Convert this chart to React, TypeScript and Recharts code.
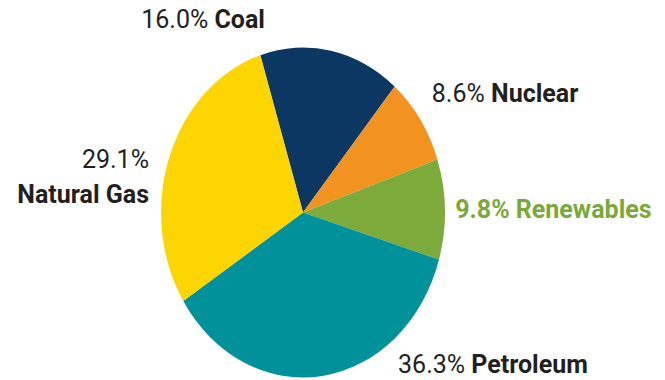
import React from 'react'
import { PieChart, Pie, Cell } from 'recharts'

const sources = ['Coal', 'Nuclear', 'Renewables', 'Petroleum', 'Natural Gas']
const shares = [16.0, 8.6, 9.8, 36.3, 29.1]
const sliceColors = ['#0c3763', '#f3931f', '#7cab3b', '#00919b', '#fdd500']

const data = sources.map((name, i) => ({ name, value: shares[i] }))

// pie is drawn as a circle then squeezed horizontally into the ellipse of the original
const SX = 0.86
const CHART_W = 860
const CX = 430

// label placement relative to the point just outside the slice
const labelPos: Record<string, { anchor: 'start' | 'end'; dx: number; dy: number }> = {
    Coal: { anchor: 'end', dx: -68, dy: -11 },
    Nuclear: { anchor: 'start', dx: 3, dy: -11 },
    Renewables: { anchor: 'start', dx: 0, dy: 9 },
    Petroleum: { anchor: 'start', dx: 74, dy: -15 },
    'Natural Gas': { anchor: 'end', dx: -11, dy: 16 },
}

const textColor = '#231f20'
const fontFamily = 'Roboto, "Noto Sans", sans-serif'

const renderLabel = (props: any) => {
    const { cx, cy, midAngle, outerRadius, index } = props
    const name = sources[index]
    const pos = labelPos[name]
    const rad = Math.PI / 180
    const r = outerRadius + 12
    const sx = r * Math.cos(-midAngle * rad) * SX + pos.dx
    const x = cx + sx / SX
    const y = cy + r * Math.sin(-midAngle * rad) + pos.dy
    const pct = shares[index].toFixed(1) + '%'
    const green = name === 'Renewables'
    return (
        <g transform={`translate(${x},${y}) scale(${1 / SX},1)`}>
            {name === 'Natural Gas' ? (
                <text textAnchor="end" fontFamily={fontFamily} fontSize={25} fill={textColor}>
                    <tspan x={0} y={0}>{pct}</tspan>
                    <tspan x={0} y={35} fontWeight={700}>{name}</tspan>
                </text>
            ) : (
                <text
                    x={0}
                    y={0}
                    textAnchor={pos.anchor}
                    fontFamily={fontFamily}
                    fontSize={25}
                    fill={green ? '#7aa83a' : textColor}
                >
                    <tspan fontWeight={green ? 700 : 400}>{pct} </tspan>
                    <tspan fontWeight={700}>{name}</tspan>
                </text>
            )}
        </g>
    )
}

export default function App() {
    return (
        <div
            style={{
                position: 'absolute',
                left: 0,
                top: 0,
                width: 665,
                height: 380,
                overflow: 'hidden',
                background: '#fff',
            }}
        >
            <div
                style={{
                    position: 'absolute',
                    left: 303 - CX,
                    top: 0,
                    transform: `scaleX(${SX})`,
                    transformOrigin: `${CX}px 0`,
                }}
            >
                <PieChart width={CHART_W} height={380} margin={{ top: 0, right: 0, bottom: 0, left: 0 }}>
                    <Pie
                        data={data}
                        dataKey="value"
                        nameKey="name"
                        cx={CX}
                        cy={212.5}
                        outerRadius={165}
                        startAngle={107.5}
                        endAngle={-252.5}
                        stroke="none"
                        label={renderLabel}
                        labelLine={false}
                        isAnimationActive={false}
                    >
                        {data.map((d, i) => (
                            <Cell key={d.name} fill={sliceColors[i]} />
                        ))}
                    </Pie>
                </PieChart>
            </div>
        </div>
    )
}
